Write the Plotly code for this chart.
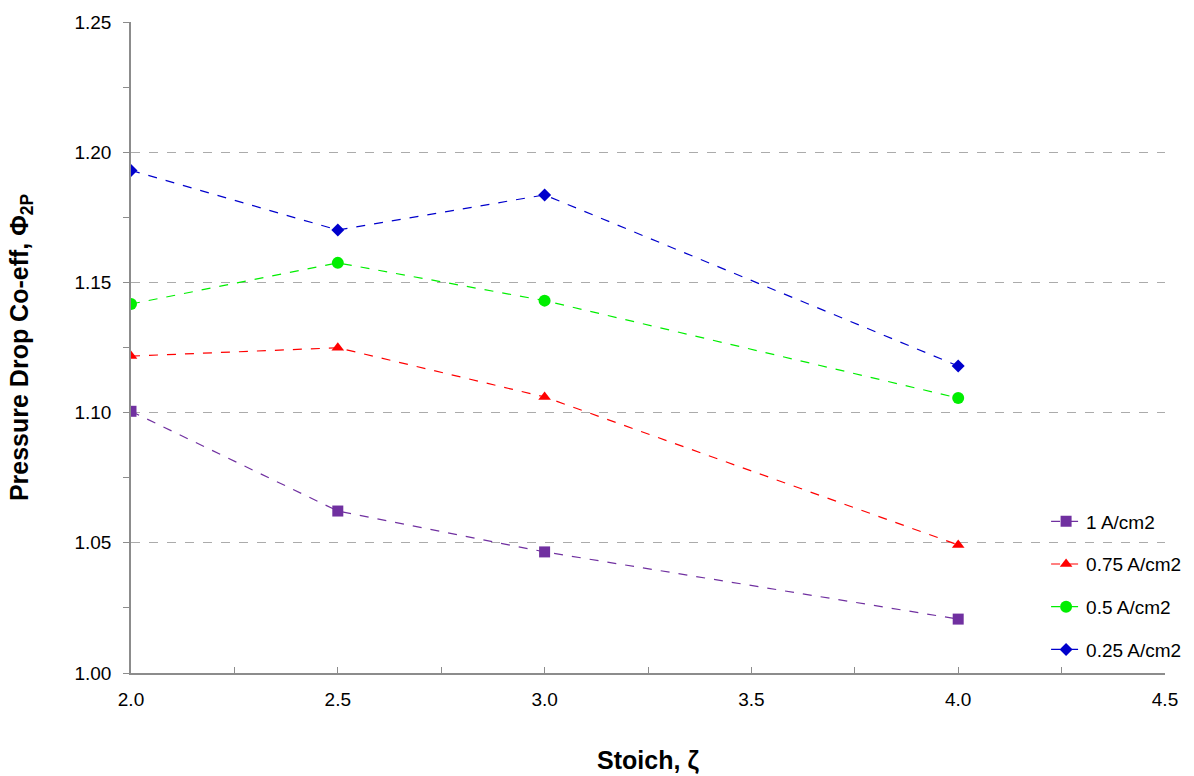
import plotly.graph_objects as go

stoich = [2.0, 2.5, 3.0, 4.0]
labels = ["1 A/cm2", "0.75 A/cm2", "0.5 A/cm2", "0.25 A/cm2"]
phi_1 = [1.1005, 1.0622, 1.0465, 1.0207]
phi_075 = [1.1217, 1.1249, 1.1060, 1.0492]
phi_05 = [1.1417, 1.1575, 1.1430, 1.1056]
phi_025 = [1.1930, 1.1701, 1.1836, 1.1179]

series = [phi_1, phi_075, phi_05, phi_025]
colors = ["#7030A0", "#FF0000", "#00EE00", "#0000CC"]
symbols = ["square", "triangle-up", "circle", "diamond"]
sizes = [11, 11, 12, 10]

fig = go.Figure()
for i, (lab, ys) in enumerate(zip(labels, series)):
    fig.add_trace(go.Scatter(
        x=stoich, y=ys, name=lab, mode="lines+markers",
        legendgroup=f"g{i}",
        line=dict(color=colors[i], width=1.2, dash="dash"),
        marker=dict(color=colors[i], symbol=symbols[i], size=sizes[i]),
    ))

fig.update_layout(
    width=1194, height=776,
    margin=dict(l=131, r=29, t=22, b=103, autoexpand=False),
    plot_bgcolor="white", paper_bgcolor="white",
    font=dict(family="Liberation Sans, Arial, sans-serif", size=19, color="#000000"),
    showlegend=True,
    legend=dict(x=0.885, y=0.262, xanchor="left", yanchor="top",
                bgcolor="rgba(0,0,0,0)", traceorder="grouped", tracegroupgap=15,
                font=dict(size=19)),
)
fig.update_xaxes(
    range=[2.0, 4.5], dtick=0.5, tickformat=".1f",
    showline=True, linecolor="#8C8C8C", linewidth=1.5,
    showgrid=False, zeroline=False,
    ticks="inside", ticklen=6, tickcolor="#8C8C8C",
    minor=dict(dtick=0.25, ticks="inside", ticklen=6, tickcolor="#8C8C8C"),
    tickfont=dict(size=19), ticklabelstandoff=8,
    title=dict(text="<b>Stoich, ζ</b>", font=dict(size=25), standoff=43),
)
fig.update_yaxes(
    range=[1.0, 1.25], dtick=0.05, tickformat=".2f",
    showline=True, linecolor="#8C8C8C", linewidth=1.5,
    showgrid=True, gridcolor="#ABABAB", griddash="dash", gridwidth=1,
    zeroline=False,
    ticks="outside", ticklen=6, tickcolor="#8C8C8C",
    minor=dict(dtick=0.025, ticks="outside", ticklen=6, tickcolor="#8C8C8C", showgrid=False),
    tickfont=dict(size=19), ticklabelstandoff=8,
    title=dict(text="<b>Pressure Drop Co-eff, Φ<sub>2P</sub></b>", font=dict(size=25), standoff=39),
)

fig.write_html("out.html")
